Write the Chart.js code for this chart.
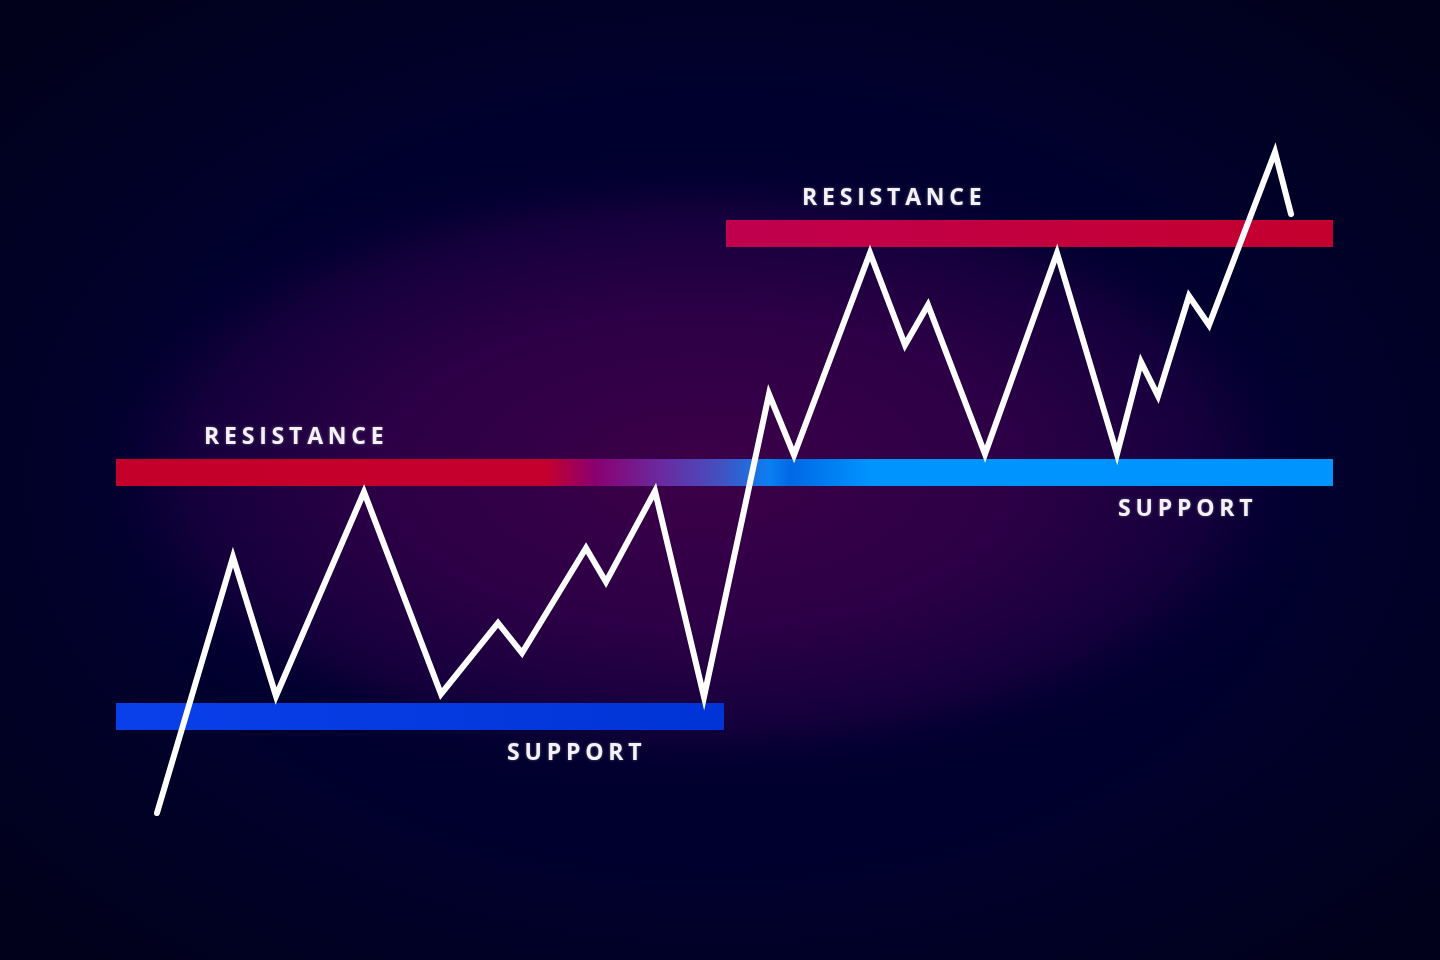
<!DOCTYPE html>
<html>
<head>
<meta charset="utf-8">
<title>Support and resistance</title>
<script src="https://cdn.jsdelivr.net/npm/chart.js@4.4.1/dist/chart.umd.min.js"></script>
<style>
  html, body { margin: 0; padding: 0; background: #00002e; overflow: hidden; }
  #chart { display: block; }
</style>
</head>
<body>
<canvas id="chart" width="1440" height="960"></canvas>
<script>
// price path (time step, price)
const timeSteps = [15.7, 23.3, 27.6, 36.4, 44.1, 49.8, 52.2, 58.6, 60.6, 65.5, 70.4, 76.9, 79.4,
                   87.0, 90.5, 92.8, 98.5, 105.7, 111.7, 114.1, 115.8, 118.9, 120.9, 127.5, 129.1];
const prices    = [14.7, 40.3, 26.4, 46.8, 26.6, 33.7, 30.7, 41.2, 37.8, 46.9, 26.3, 56.6, 50.5,
                   70.7, 61.5, 65.5, 50.6, 70.7, 50.6, 59.8, 56.4, 66.4, 63.5, 80.8, 74.6];

// horizontal levels
const levelNames  = ['Support', 'Resistance / Support', 'Resistance'];
const levelValues = [24.35, 48.75, 72.65];
const levelStart  = [11.6, 11.6, 72.6];
const levelEnd    = [72.4, 133.3, 133.3];

// labels: text, time, price
const labelTexts  = ['RESISTANCE', 'SUPPORT', 'RESISTANCE', 'SUPPORT'];
const labelTimes  = [20.4, 50.7, 80.2, 111.8];
const labelPrices = [52.3, 20.7, 76.2, 45.1];

document.addEventListener("DOMContentLoaded", function() {

    const canvas = document.getElementById('chart');
    const ctx = canvas.getContext('2d');

    // gradient along a level band, stops given in time units
    function bandGradient(chart, stops) {
        const xs = chart.scales.x;
        if (!chart.chartArea || !xs) return stops[0][1];
        const x0 = xs.getPixelForValue(stops[0][0]);
        const x1 = xs.getPixelForValue(stops[stops.length - 1][0]);
        if (!isFinite(x0) || !isFinite(x1) || x1 === x0) return stops[0][1];
        const g = chart.ctx.createLinearGradient(x0, 0, x1, 0);
        stops.forEach(s => {
            const p = (xs.getPixelForValue(s[0]) - x0) / (x1 - x0);
            g.addColorStop(Math.min(1, Math.max(0, p)), s[1]);
        });
        return g;
    }

    const bandStops = [
        [[11.6, '#0a40ea'], [72.4, '#0034d6']],
        [[11.6, '#c4002a'], [54.5, '#c6002c'], [59.5, '#8a0070'], [66.0, '#6a2aa0'],
         [72.0, '#4450c0'], [77.0, '#0a80f2'], [79.0, '#0068e4'], [87.0, '#0094ff'], [133.3, '#0094ff']],
        [[72.6, '#c0004e'], [133.3, '#c4002e']]
    ];

    const bandDatasets = levelValues.map((v, i) => ({
        label: levelNames[i],
        data: [{ x: levelStart[i], y: v }, { x: levelEnd[i], y: v }],
        borderColor: (c) => bandGradient(c.chart, bandStops[i]),
        borderWidth: 27,
        borderCapStyle: 'butt',
        pointRadius: 0,
        tension: 0,
        order: 1
    }));

    // background glow
    const backgroundPlugin = {
        id: 'glow',
        beforeDraw(chart) {
            const c = chart.ctx;
            const w = chart.width, h = chart.height;
            c.save();
            c.fillStyle = '#00002e';
            c.fillRect(0, 0, w, h);
            c.translate(700, 470);
            c.scale(2, 1);
            const g = c.createRadialGradient(0, 0, 0, 0, 0, 320);
            g.addColorStop(0, '#3c0048');
            g.addColorStop(0.5, '#2c0046');
            g.addColorStop(0.8, '#14003c');
            g.addColorStop(1, 'rgba(0,0,46,0)');
            c.fillStyle = g;
            c.fillRect(-w, -h, 2 * w, 2 * h);
            c.restore();
            // darker corners
            c.save();
            c.translate(w / 2, h / 2);
            c.scale(1.5, 1);
            const v = c.createRadialGradient(0, 0, 380, 0, 0, 640);
            v.addColorStop(0, 'rgba(1,1,24,0)');
            v.addColorStop(1, 'rgba(1,1,24,0.85)');
            c.fillStyle = v;
            c.fillRect(-w, -h, 2 * w, 2 * h);
            c.restore();
        }
    };

    // level labels
    const labelPlugin = {
        id: 'levelLabels',
        afterDatasetsDraw(chart) {
            const c = chart.ctx;
            const xs = chart.scales.x, ys = chart.scales.y;
            c.save();
            c.fillStyle = '#f4f2f8';
            c.font = 'bold 23px "Open Sans", sans-serif';
            c.letterSpacing = '4.8px';
            c.textBaseline = 'middle';
            c.textAlign = 'left';
            c.shadowColor = 'rgba(255,255,255,0.35)';
            c.shadowBlur = 3;
            labelTexts.forEach((t, i) => {
                c.fillText(t, xs.getPixelForValue(labelTimes[i]), ys.getPixelForValue(labelPrices[i]));
            });
            c.restore();
        }
    };

    new Chart(ctx, {
        type: 'line',
        data: {
            datasets: [{
                label: 'Price',
                data: timeSteps.map((t, i) => ({ x: t, y: prices[i] })),
                borderColor: '#ffffff',
                borderWidth: 6,
                borderJoinStyle: 'miter',
                borderCapStyle: 'round',
                pointRadius: 0,
                tension: 0,
                order: 0
            }, ...bandDatasets]
        },
        options: {
            responsive: false,
            animation: false,
            layout: { padding: 0 },
            plugins: {
                legend: { display: false },
                tooltip: { enabled: false }
            },
            scales: {
                x: { type: 'linear', min: 0, max: 144, display: false },
                y: { type: 'linear', min: 0, max: 96, display: false }
            }
        },
        plugins: [backgroundPlugin, labelPlugin]
    });
});
</script>
</body>
</html>
